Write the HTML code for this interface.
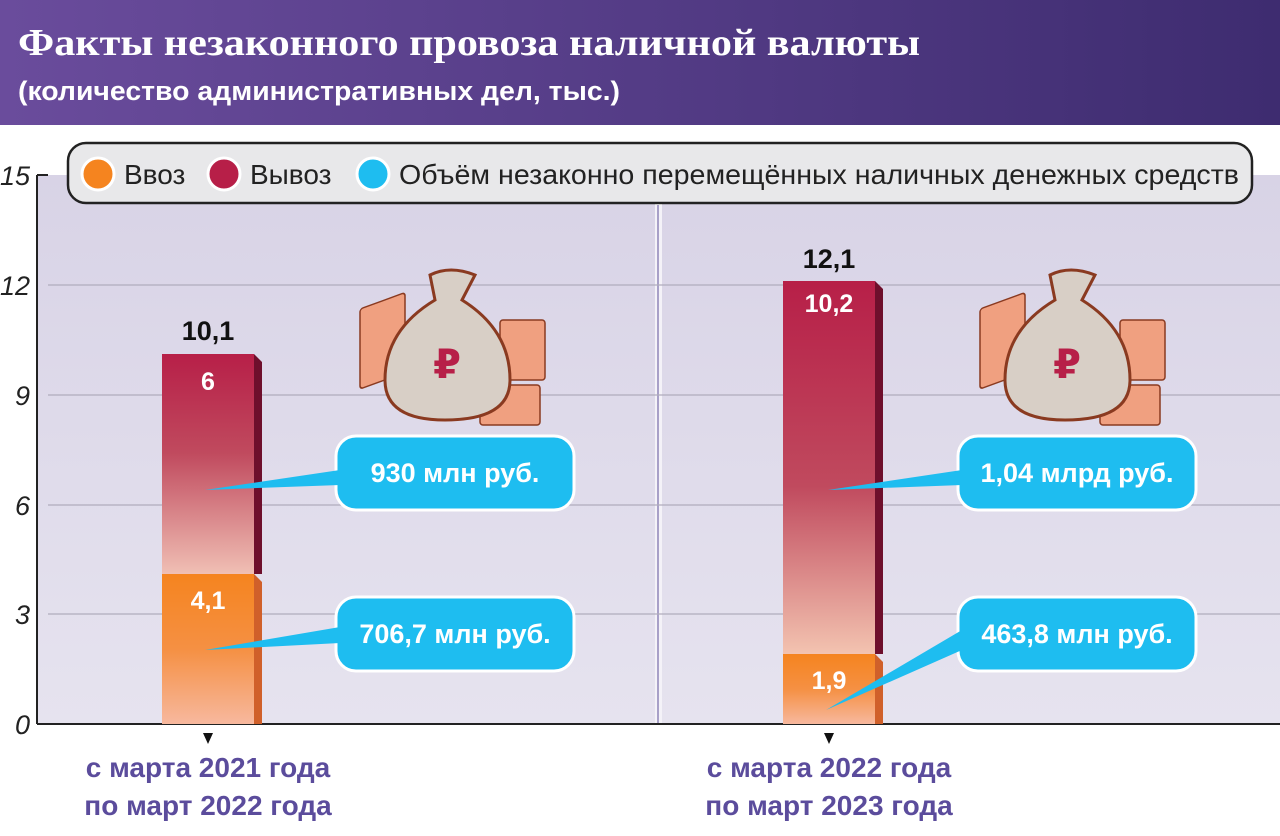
<!DOCTYPE html>
<html><head><meta charset="utf-8"><style>
body{margin:0;width:1280px;height:831px;overflow:hidden;background:#fff;font-family:"Liberation Sans","DejaVu Sans",sans-serif}
</style></head><body>
<svg width="1280" height="831" viewBox="0 0 1280 831" xmlns="http://www.w3.org/2000/svg">
<defs>
<linearGradient id="hd" x1="0" x2="1" y1="0" y2="0"><stop offset="0" stop-color="#6a4c9c"/><stop offset="1" stop-color="#3e2c70"/></linearGradient>
<linearGradient id="bg" x1="0" x2="0" y1="0" y2="1"><stop offset="0" stop-color="#d8d3e6"/><stop offset="1" stop-color="#e6e3ef"/></linearGradient>
<linearGradient id="red1" x1="0" x2="0" y1="0" y2="1"><stop offset="0" stop-color="#b71f48"/><stop offset="0.45" stop-color="#c04a5e"/><stop offset="1" stop-color="#f0bfb4"/></linearGradient>
<linearGradient id="red2" x1="0" x2="0" y1="0" y2="1"><stop offset="0" stop-color="#b71f48"/><stop offset="0.55" stop-color="#c04a5e"/><stop offset="1" stop-color="#f3c3b0"/></linearGradient>
<linearGradient id="or" x1="0" x2="0" y1="0" y2="1"><stop offset="0" stop-color="#f5841f"/><stop offset="0.5" stop-color="#f59043"/><stop offset="1" stop-color="#f7b89e"/></linearGradient>
</defs>
<rect x="0" y="0" width="1280" height="125" fill="url(#hd)"/>
<text x="18" y="55" font-family="Liberation Serif,serif" font-weight="bold" font-size="38" fill="#fff" textLength="902" lengthAdjust="spacingAndGlyphs">Факты незаконного провоза наличной валюты</text>
<text x="18" y="100" font-weight="bold" font-size="27" fill="#fff" textLength="602" lengthAdjust="spacingAndGlyphs">(количество административных дел, тыс.)</text>
<rect x="38" y="175" width="617" height="549" fill="url(#bg)"/>
<rect x="662" y="175" width="618" height="549" fill="url(#bg)"/>
<rect x="655" y="205" width="7" height="519" fill="#f4f2f8"/>
<line x1="658" y1="205" x2="658" y2="724" stroke="#a8a0c8" stroke-width="2"/>
<g stroke="#b0adbd" stroke-width="1.2">
<line x1="48" y1="285" x2="1280" y2="285"/><line x1="48" y1="395" x2="1280" y2="395"/>
<line x1="48" y1="505" x2="1280" y2="505"/><line x1="48" y1="614" x2="1280" y2="614"/>
</g>
<line x1="37" y1="175" x2="37" y2="724" stroke="#222" stroke-width="2"/>
<line x1="37" y1="175" x2="48" y2="175" stroke="#222" stroke-width="2"/>
<line x1="37" y1="724" x2="1280" y2="724" stroke="#222" stroke-width="2"/>
<g font-style="italic" font-size="27" fill="#222" text-anchor="end">
<text x="30" y="185">15</text><text x="30" y="295">12</text><text x="30" y="405">9</text><text x="30" y="515">6</text><text x="30" y="624">3</text><text x="30" y="734">0</text>
</g>
<rect x="68" y="143" width="1184" height="60" rx="18" fill="#e8e8ea" stroke="#222" stroke-width="2.5"/>
<circle cx="98" cy="174" r="16" fill="#f5841f" stroke="#fff" stroke-width="3"/>
<text x="124" y="184" font-size="28" fill="#222">Ввоз</text>
<circle cx="224" cy="174" r="16" fill="#b71f48" stroke="#fff" stroke-width="3"/>
<text x="250" y="184" font-size="28" fill="#222">Вывоз</text>
<circle cx="373" cy="174" r="16" fill="#1ebdf0" stroke="#fff" stroke-width="3"/>
<text x="399" y="184" font-size="28" fill="#222" textLength="840" lengthAdjust="spacingAndGlyphs">Объём незаконно перемещённых наличных денежных средств</text>
<rect x="162" y="354" width="92" height="220" fill="url(#red1)"/>
<polygon points="254,354 262,362 262,574 254,574" fill="#6e0f2c"/>
<rect x="162" y="574" width="92" height="150" fill="url(#or)"/>
<polygon points="254,574 262,582 262,724 254,724" fill="#d0602a"/>
<text x="208" y="340" text-anchor="middle" font-weight="bold" font-size="27" fill="#111">10,1</text>
<text x="208" y="390" text-anchor="middle" font-weight="bold" font-size="25" fill="#fff">6</text>
<text x="208" y="609" text-anchor="middle" font-weight="bold" font-size="25" fill="#fff">4,1</text>
<polygon points="203,733 213,733 208,744" fill="#111"/>
<rect x="783" y="281" width="92" height="373" fill="url(#red2)"/>
<polygon points="875,281 883,289 883,654 875,654" fill="#6e0f2c"/>
<rect x="783" y="654" width="92" height="70" fill="url(#or)"/>
<polygon points="875,654 883,662 883,724 875,724" fill="#d0602a"/>
<text x="829" y="268" text-anchor="middle" font-weight="bold" font-size="27" fill="#111">12,1</text>
<text x="829" y="312" text-anchor="middle" font-weight="bold" font-size="25" fill="#fff">10,2</text>
<text x="829" y="689" text-anchor="middle" font-weight="bold" font-size="25" fill="#fff">1,9</text>
<polygon points="824,733 834,733 829,744" fill="#111"/>
<g fill="#1ebdf0" stroke="#fff" stroke-width="3">
<rect x="336" y="436" width="238" height="74" rx="20"/>
<rect x="336" y="597" width="238" height="74" rx="20"/>
<rect x="958" y="436" width="238" height="74" rx="20"/>
<rect x="958" y="597" width="238" height="74" rx="20"/>
</g>
<g fill="#1ebdf0">
<polygon points="205,490 340,470 340,485"/>
<polygon points="205,650 340,627 340,643"/>
<polygon points="828,490 962,470 962,485"/>
<polygon points="826,710 962,630 962,650"/>
</g>
<g font-weight="bold" font-size="27" fill="#fff" text-anchor="middle">
<text x="455" y="482">930 млн руб.</text>
<text x="455" y="643">706,7 млн руб.</text>
<text x="1077" y="482">1,04 млрд руб.</text>
<text x="1077" y="643">463,8 млн руб.</text>
</g>
<g id="bag">
<g fill="#f0a080" stroke="#8a3a20" stroke-width="1.5">
<rect x="360" y="300" width="45" height="80" rx="3" transform="skewY(-20) translate(0,140)"/>
<rect x="500" y="320" width="45" height="60" rx="3"/>
<rect x="480" y="385" width="60" height="40" rx="3"/>
</g>
<path d="M430 275 Q450 265 475 275 L462 300 Q510 330 510 380 Q510 420 445 420 Q385 420 385 380 Q385 330 435 300 Z" fill="#d8cfc6" stroke="#8a3a20" stroke-width="3"/>
<text x="447" y="378" text-anchor="middle" font-weight="bold" font-size="40" fill="#b71f48">₽</text>
</g>
<use href="#bag" transform="translate(620,0)"/>
<g font-weight="bold" font-size="28" fill="#5b4c9c" text-anchor="middle">
<text x="208" y="777">с марта 2021 года</text>
<text x="208" y="815">по март 2022 года</text>
<text x="829" y="777">с марта 2022 года</text>
<text x="829" y="815">по март 2023 года</text>
</g>
</svg>
</body></html>
